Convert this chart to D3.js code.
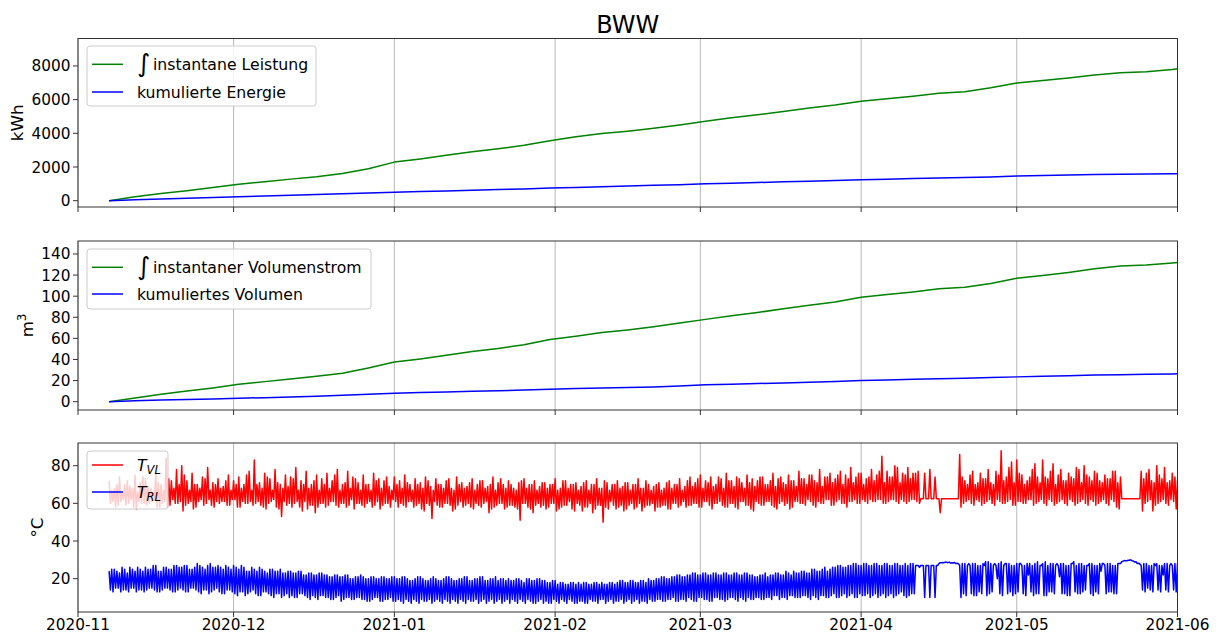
<!DOCTYPE html>
<html><head><meta charset="utf-8">
<script src="https://cdn.jsdelivr.net/npm/d3@7"></script>
<style>body{margin:0;background:#fff} text{font-family:"DejaVu Sans",sans-serif;fill:#000}</style>
</head><body><svg id="c" width="1219" height="635"></svg>
<script>
// ---------- data ----------
const cumDates = ["2020-11-07","2020-11-12","2020-11-17","2020-11-22","2020-11-27","2020-12-02","2020-12-07","2020-12-12","2020-12-17","2020-12-22","2020-12-27","2021-01-01","2021-01-06","2021-01-11","2021-01-16","2021-01-21","2021-01-26","2021-01-31","2021-02-05","2021-02-10","2021-02-15","2021-02-20","2021-02-25","2021-03-02","2021-03-07","2021-03-12","2021-03-17","2021-03-22","2021-03-27","2021-04-01","2021-04-06","2021-04-11","2021-04-16","2021-04-21","2021-04-26","2021-05-01","2021-05-06","2021-05-11","2021-05-16","2021-05-21","2021-05-26","2021-05-31","2021-06-01"];
const energyIntegral = [0,230,420,590,780,980,1120,1280,1420,1620,1900,2290,2480,2700,2900,3080,3290,3560,3800,3990,4130,4300,4500,4720,4930,5100,5300,5500,5680,5900,6050,6200,6380,6470,6700,6990,7130,7280,7460,7600,7650,7790,7830];
const energyCum = [0,50,100,140,190,240,280,320,360,410,450,500,540,580,620,660,700,750,790,830,870,910,950,1000,1040,1080,1120,1160,1200,1250,1280,1310,1340,1370,1410,1460,1490,1520,1550,1570,1580,1595,1600];
const volumeIntegral = [0,3.5,7,10,13,16.5,19,21.5,24,27,32,37.5,40.5,44,47.5,50.5,54,59,62,65.5,68,71,74.5,78,81.5,84.5,88,91.5,94.5,99,101.5,104,107,108.5,112,117,119.5,122.5,126,128.5,129.5,131.5,132];
const volumeCum = [0,0.8,1.5,2.0,2.5,3.2,3.8,4.5,5.2,6.0,7.0,8.0,8.6,9.2,9.8,10.4,11.0,11.8,12.4,13.0,13.5,14.0,14.8,16.0,16.6,17.2,17.8,18.5,19.2,20.0,20.6,21.2,21.8,22.2,22.8,23.5,24.0,24.6,25.2,25.6,25.9,26.3,26.4];

// temperature samples per day starting tempStart:
// *_AM = readings at 00:00 and 06:00, *_PM = readings at 12:00 and 18:00
const tempStart = "2020-11-07T00:00:00Z";
const tVL_AM = [
 72,60, 68,58, 74,61, 70,59, 69,62, 75,57, 71,60,
 73,59, 68,61, 76,58, 70,60, 84,58, 72,62, 78,60,
 80,56, 72,60, 76,57, 70,61, 74,59, 79,62, 71,58,
 73,60, 69,61, 75,59, 72,62, 74,58, 70,60, 77,61,
 83,60, 71,59, 76,57, 73,61, 78,58, 70,53, 75,59,
 74,58, 79,61, 72,56, 77,57, 70,59, 75,58, 73,60,
 76,59, 72,61, 78,58, 70,60, 77,59, 74,57, 71,60,
 75,58, 70,61, 76,59, 73,57, 72,60, 69,58, 74,61,
 72,60, 75,58, 70,61, 73,59, 71,57, 74,60, 69,52,
 73,59, 70,58, 72,60, 68,56, 74,59, 71,58, 69,60,
 73,57, 70,59, 72,60, 69,55, 74,58, 71,60, 70,57,
 72,59, 68,58, 71,51, 73,60, 70,57, 72,59, 69,58,
 71,57, 70,60, 73,56, 68,58, 72,59, 70,57, 71,60,
 69,56, 72,58, 70,55, 73,59, 68,50, 71,57, 70,59,
 72,58, 69,56, 71,59, 70,57, 73,60, 68,58, 70,59,
 69,56, 71,58, 68,59, 72,57, 70,60, 73,59, 69,58,
 74,59, 71,60, 75,58, 72,61, 74,57, 70,60, 73,59,
 76,58, 72,60, 74,57, 71,61, 75,59, 73,56, 72,60,
 74,59, 70,61, 76,58, 73,60, 71,59, 75,57, 72,61,
 77,60, 73,59, 75,61, 72,58, 78,60, 74,62, 76,59,
 73,61, 77,60, 75,58, 79,61, 74,60, 76,62, 73,60,
 78,61, 75,62, 85,60, 77,61, 74,62, 79,60, 76,61,
 79,61, 76,62, 77,60, 62.5,76, 62.5,78, 62.5,74, 62.5,55, 62.5,62.5, 62.5,62.5, 62.5,62.5,
 86,58, 72,61, 75,60, 70,62, 76,59, 73,61, 71,60,
 77,62, 88,60, 74,61, 82,59, 83,61, 75,60, 72,62,
 78,59, 74,61, 83,60, 73,62, 81,59, 75,61, 72,60,
 76,62, 73,59, 78,61, 80,60, 74,62, 77,59, 72,61,
 75,60, 73,62, 77,58, 74,62.5, 62.5,62.5, 62.5,62.5, 62.5,62.5,
 77,56, 76,61, 72,56, 80,60, 73,62, 71,59, 76,61,
 72,60
];
const tVL_PM = [
 67,61, 70,59, 66,62, 72,60, 68,58, 66,61, 74,60,
 69,60, 66,62, 71,58, 67,61, 73,59, 68,60, 70,61,
 75,59, 67,61, 70,58, 68,62, 73,60, 67,59, 70,61,
 68,61, 72,59, 67,62, 70,58, 68,61, 75,60, 67,59,
 70,61, 68,58, 74,60, 67,62, 71,57, 68,61, 69,60,
 73,60, 67,58, 70,61, 68,59, 72,55, 67,60, 70,58,
 68,61, 75,59, 67,60, 71,58, 68,62, 73,60, 67,59,
 70,60, 67,58, 72,61, 68,59, 74,60, 67,62, 70,58,
 68,59, 71,61, 67,58, 70,60, 68,56, 72,59, 67,61,
 70,58, 68,60, 73,59, 67,57, 70,61, 68,59, 71,58,
 67,60, 72,58, 68,61, 70,57, 67,59, 73,60, 68,58,
 70,59, 67,57, 72,60, 68,58, 70,55, 67,60, 71,59,
 68,58, 70,60, 67,57, 72,59, 68,61, 70,56, 67,59,
 71,58, 67,60, 70,57, 68,59, 72,58, 67,61, 70,57,
 68,59, 71,57, 67,60, 70,58, 68,56, 72,59, 67,60,
 70,58, 67,59, 71,57, 68,60, 70,58, 67,61, 72,59,
 69,60, 73,58, 68,61, 71,59, 69,60, 74,61, 68,58,
 72,60, 69,58, 73,61, 68,59, 71,57, 69,61, 74,59,
 70,61, 72,59, 69,57, 74,61, 70,60, 72,58, 69,61,
 73,60, 70,62, 75,59, 71,61, 69,60, 74,62, 71,59,
 75,62, 70,60, 73,61, 71,62, 76,60, 70,61, 74,62,
 72,61, 77,62, 71,60, 74,62, 80,61, 71,62, 75,60,
 73,62, 76,61, 62.5,62.5, 62.5,62.5, 62.5,62.5, 62.5,62.5, 62.5,62.5, 62.5,62.5, 62.5,62.5, 62.5,62.5,
 74,60, 70,62, 77,59, 71,61, 73,60, 78,62, 70,59,
 75,61, 72,60, 79,62, 71,59, 76,61, 70,60, 74,62,
 81,60, 71,62, 74,59, 77,61, 70,60, 78,62, 72,59,
 74,61, 79,60, 71,62, 75,59, 72,61, 76,60, 71,62,
 73,59, 77,61, 71,57, 62.5,62.5, 62.5,62.5, 62.5,62.5, 62.5,62.5,
 73,60, 78,62, 71,59, 75,61, 79,60, 72,62, 74,57,
 75,59
];
const tRL_AM = [
 24,14, 25,15, 23,13, 25,14, 26,15, 24,13, 25,14,
 26,14, 25,15, 27,13, 24,14, 26,15, 25,13, 27,14,
 26,14, 27,13, 25,15, 28,13, 26,14, 27,12, 26,14,
 27,13, 25,12, 26,14, 27,12, 25,13, 26,11, 24,13,
 25,12, 26,11, 24,13, 25,11, 24,12, 25,10, 23,12,
 24,11, 23,10, 24,12, 22,10, 23,11, 22,9, 23,11,
 22,10, 21,9, 22,11, 21,9, 22,10, 20,9, 21,10,
 21,9, 20,8, 21,10, 20,8, 21,9, 20,10, 21,8,
 20,8, 21,9, 19,7, 20,8, 21,9, 19,8, 20,7,
 20,9, 19,7, 21,8, 20,9, 19,7, 20,8, 21,9,
 19,8, 20,7, 21,9, 19,8, 20,7, 19,9, 20,8,
 20,7, 19,8, 20,9, 18,7, 20,8, 19,7, 20,9,
 19,8, 18,7, 19,8, 18,9, 17,7, 18,8, 17,7,
 17,8, 18,7, 17,8, 18,7, 18,9, 17,8, 18,7,
 18,8, 19,7, 18,9, 19,8, 18,7, 19,8, 20,9,
 19,8, 20,9, 21,8, 20,9, 21,8, 22,9, 21,8,
 22,9, 23,8, 22,10, 23,9, 22,8, 23,10, 22,9,
 23,9, 22,10, 23,8, 22,9, 23,10, 22,9, 21,10,
 22,9, 21,10, 22,11, 23,9, 22,10, 23,11, 24,10,
 23,10, 24,11, 23,9, 25,10, 24,11, 26,10, 25,11,
 26,10, 27,11, 26,10, 27,12, 28,10, 27,11, 28,12,
 27,11, 28,10, 27,12, 28,11, 27,10, 28,12, 27,11,
 27,11, 28,12, 27,26, 27,10, 27,10, 27,10, 28,28.5, 28.5,28.8, 28.8,28.3, 28.6,28,
 27,10, 28,11, 27,12, 28,11, 27,12, 29,11, 28,13,
 27,20, 29,11, 28,12, 27,11, 28,13, 27,12, 28,22,
 27,11, 29,12, 28,11, 27,13, 28,12, 27,21, 28,12,
 27,11, 29,13, 28,12, 27,14, 28,12, 27,13, 28,24,
 27,12, 28,13, 27,12, 28,29, 29.5,29.5, 30,29.5, 29,28,
 27,14, 28,15, 27,13, 28,14, 27,22, 28,13, 27,14,
 28,15
];
const tRL_PM = [
 25,13, 24,15, 26,14, 23,13, 25,15, 26,14, 24,13,
 25,15, 27,14, 24,13, 26,15, 25,14, 27,13, 26,15,
 27,13, 25,15, 26,14, 27,12, 25,14, 28,13, 26,15,
 26,12, 27,14, 25,13, 26,11, 27,13, 24,12, 26,14,
 24,11, 25,13, 23,12, 25,10, 24,12, 23,11, 24,10,
 23,10, 24,12, 22,11, 23,9, 22,10, 23,11, 22,10,
 21,9, 22,10, 21,8, 22,10, 20,9, 21,10, 22,9,
 20,8, 21,9, 20,10, 21,8, 20,9, 21,8, 20,9,
 21,7, 20,8, 19,9, 21,7, 20,8, 19,9, 21,8,
 19,8, 20,9, 21,7, 19,8, 20,9, 21,7, 19,8,
 20,9, 21,8, 19,7, 20,9, 21,8, 20,7, 19,9,
 19,9, 20,7, 19,8, 20,9, 19,7, 20,8, 19,7,
 18,7, 19,9, 17,7, 18,8, 17,9, 18,7, 18,8,
 18,7, 17,9, 18,8, 17,9, 17,7, 18,9, 17,8,
 19,9, 18,8, 19,7, 18,9, 19,8, 18,7, 19,8,
 20,9, 21,8, 20,9, 21,10, 22,8, 21,9, 22,10,
 23,8, 22,10, 23,9, 22,8, 23,10, 22,9, 23,8,
 22,10, 23,9, 22,10, 23,8, 22,9, 21,10, 22,9,
 23,10, 22,9, 23,11, 22,10, 24,9, 22,11, 23,10,
 24,11, 23,10, 25,11, 24,9, 25,11, 24,10, 26,12,
 27,10, 26,12, 27,11, 28,10, 27,12, 28,11, 27,10,
 28,12, 27,11, 28,10, 27,12, 28,11, 27,13, 28,10,
 28,12, 27,27, 27,27, 27,27, 27,27, 27,27, 28.4,28.6, 28.7,28.5, 28.4,28.3, 28.2,28,
 28,12, 27,28, 28,11, 27,13, 28,27, 29,12, 27,28,
 28,12, 27,28, 28,13, 27,12, 28,28, 27,11, 28,13,
 28,12, 27,27, 29,11, 28,13, 27,28, 28,12, 27,11,
 28,28, 27,12, 28,13, 27,27, 28,11, 27,12, 28,28,
 28,13, 27,12, 28,28, 29.3,29.6, 29.8,29.8, 29.4,28.8, 28.2,27.8,
 28,13, 27,14, 28,27, 27,13, 28,14, 27,28, 28,13,
 27,14
];
const monthTicks = ["2020-11","2020-12","2021-01","2021-02","2021-03","2021-04","2021-05","2021-06"];
const yTicksEnergy = [0,2000,4000,6000,8000];
const yTicksVolume = [0,20,40,60,80,100,120,140];
const yTicksTemp = [20,40,60,80];

// ---------- drawing ----------
const svg = d3.select("#c");
const L = 78, R = 1177.5;
const parse = d3.utcParse("%Y-%m-%d");
const parseMonth = d3.utcParse("%Y-%m");
const x = d3.scaleUtc().domain([parseMonth("2020-11"), parseMonth("2021-06")]).range([L, R]);
const cumD = cumDates.map(parse);
const t0 = Date.parse(tempStart);
const H = 3600e3;
function mergeSamples(am, pm) {
  const pts = [];
  am.forEach((v, i) => pts.push({d: new Date(t0 + Math.floor(i / 2) * 24 * H + (i % 2) * 6 * H), v}));
  pm.forEach((v, i) => pts.push({d: new Date(t0 + Math.floor(i / 2) * 24 * H + 12 * H + (i % 2) * 6 * H), v}));
  pts.sort((p, q) => p.d - q.d);
  return pts;
}
const vlPts = mergeSamples(tVL_AM, tVL_PM);
const rlPts = mergeSamples(tRL_AM, tRL_PM);

svg.append("text").attr("x", (L + R) / 2).attr("y", 33).attr("text-anchor", "middle")
  .style("font-size", "24px").text("BWW");

const panels = [
  {top: 38.5, bottom: 207, domain: [-375, 9630], ticks: yTicksEnergy, label: "kWh", labelX: 17,
   series: [{dates: cumD, vals: energyIntegral, color: "#008000"}, {dates: cumD, vals: energyCum, color: "#0000ff"}],
   legend: {x: 87, y: 46, w: 229, h: 60, rows: [64.3, 92], names: [["∫", "instantane Leistung"], [null, "kumulierte Energie"]]}},
  {top: 241, bottom: 410, domain: [-7.9, 152.3], ticks: yTicksVolume, label: "m", sup: "3", labelX: 27,
   series: [{dates: cumD, vals: volumeIntegral, color: "#008000"}, {dates: cumD, vals: volumeCum, color: "#0000ff"}],
   legend: {x: 87, y: 249, w: 284, h: 60, rows: [267.3, 294], names: [["∫", "instantaner Volumenstrom"], [null, "kumuliertes Volumen"]]}},
  {top: 443, bottom: 612, domain: [2.3, 92.05], ticks: yTicksTemp, label: "°C", labelX: 37, xlabels: true,
   series: [{dates: vlPts.map(p => p.d), vals: vlPts.map(p => p.v), color: "#ff0000"},
            {dates: rlPts.map(p => p.d), vals: rlPts.map(p => p.v), color: "#0000ff"}],
   legend: {x: 87, y: 451, w: 81, h: 58, rows: [465, 492], names: [["T", "VL"], ["T", "RL"]], math: true}}
];

panels.forEach((p, pi) => {
  const y = d3.scaleLinear().domain(p.domain).range([p.bottom, p.top]);
  const g = svg.append("g");
  monthTicks.forEach(m => {
    const xx = x(parseMonth(m));
    g.append("line").attr("x1", xx).attr("x2", xx).attr("y1", p.top).attr("y2", p.bottom)
      .attr("stroke", "#b0b0b0").attr("stroke-width", 0.9);
  });
  const cid = "clip" + pi;
  svg.append("clipPath").attr("id", cid).append("rect")
    .attr("x", L).attr("y", p.top).attr("width", R - L).attr("height", p.bottom - p.top);
  p.series.forEach(s => {
    const line = d3.line().x((d, i) => x(s.dates[i])).y(d => y(d));
    g.append("path").attr("clip-path", `url(#${cid})`).attr("d", line(s.vals))
      .attr("fill", "none").attr("stroke", s.color).attr("stroke-width", 1.5)
      .attr("stroke-linejoin", "round");
  });
  g.append("rect").attr("x", L).attr("y", p.top).attr("width", R - L).attr("height", p.bottom - p.top)
    .attr("fill", "none").attr("stroke", "#333").attr("stroke-width", 1);
  monthTicks.forEach(m => {
    const xx = x(parseMonth(m));
    g.append("line").attr("x1", xx).attr("x2", xx).attr("y1", p.bottom).attr("y2", p.bottom + 5)
      .attr("stroke", "#333").attr("stroke-width", 1);
    if (p.xlabels) {
      g.append("text").attr("x", xx).attr("y", 629.5).attr("text-anchor", "middle")
        .style("font-size", "15.3px").text(m);
    }
  });
  p.ticks.forEach(t => {
    const yy = y(t);
    g.append("line").attr("x1", L - 5).attr("x2", L).attr("y1", yy).attr("y2", yy)
      .attr("stroke", "#333").attr("stroke-width", 1);
    g.append("text").attr("x", L - 7.5).attr("y", yy + 5.5).attr("text-anchor", "end")
      .style("font-size", "15.3px").text(t);
  });
  const cy = (p.top + p.bottom) / 2;
  const lab = g.append("text").attr("transform", `translate(${p.labelX + 6},${cy}) rotate(-90)`)
    .attr("text-anchor", "middle").style("font-size", "16.7px");
  lab.append("tspan").text(p.label);
  if (p.sup) lab.append("tspan").attr("dy", -7).style("font-size", "11.5px").text(p.sup);
  const lg = p.legend;
  g.append("rect").attr("x", lg.x).attr("y", lg.y).attr("width", lg.w).attr("height", lg.h)
    .attr("rx", 3).attr("fill", "#fff").attr("fill-opacity", 0.8).attr("stroke", "#cccccc").attr("stroke-width", 1);
  lg.rows.forEach((ry, i) => {
    g.append("line").attr("x1", 92).attr("x2", 123).attr("y1", ry).attr("y2", ry)
      .attr("stroke", p.series[i].color).attr("stroke-width", 1.5);
    const nm = lg.names[i];
    const t = g.append("text").attr("x", 137).attr("y", ry + 5.6).style("font-size", "15.7px");
    if (lg.math) {
      t.append("tspan").style("font-style", "italic").text(nm[0]);
      t.append("tspan").attr("dy", 3.5).style("font-style", "italic").style("font-size", "11.5px").text(nm[1]);
    } else if (nm[0]) {
      t.append("tspan").attr("dy", 2.5).style("font-size", "25px").text(nm[0]);
      t.append("tspan").attr("dy", -2.5).attr("x", 153).text(nm[1]);
    } else {
      t.text(nm[1]);
    }
  });
});
</script></body></html>
